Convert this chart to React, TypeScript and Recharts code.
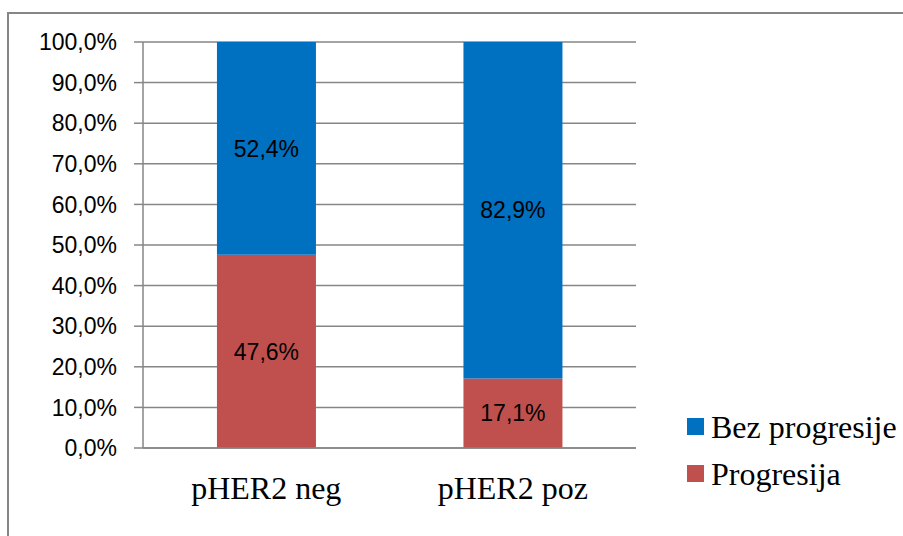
import { BarChart, Bar, XAxis, YAxis, CartesianGrid, LabelList } from 'recharts'

const categories = ['pHER2 neg', 'pHER2 poz']
const progresija = [0.476, 0.171]
const bezProgresije = [0.524, 0.829]
const yTicks = [0, 0.1, 0.2, 0.3, 0.4, 0.5, 0.6, 0.7, 0.8, 0.9, 1]
const boundaryTicks = [0, 1, 2]

const data = categories.map((name, i) => ({
  name,
  progresija: progresija[i],
  bez: bezProgresije[i],
}))

const GRAY = '#868686'
const BLUE = '#0070C0'
const RED = '#C0504D'
const SANS = '"Liberation Sans", Arial, sans-serif'
const SERIF = '"Liberation Serif", "Times New Roman", serif'

const pct = (v: any) => (Number(v) * 100).toFixed(1).replace('.', ',') + '%'

const legendItems = [
  { label: 'Bez progresije', color: BLUE },
  { label: 'Progresija', color: RED },
]

function LegendBox() {
  return (
    <div style={{ position: 'absolute', left: 687, top: 403 }}>
      {legendItems.map((it) => (
        <div key={it.label} style={{ display: 'flex', alignItems: 'center', height: 47 }}>
          <span style={{ width: 17, height: 17, background: it.color, display: 'inline-block', marginRight: 7 }} />
          <span style={{ fontFamily: SERIF, fontSize: 32, color: '#000', lineHeight: 1 }}>{it.label}</span>
        </div>
      ))}
    </div>
  )
}

export default function App() {
  return (
    <div style={{ position: 'absolute', left: 0, top: 0, width: 903, height: 536, background: '#fff' }}>
      <div
        style={{
          position: 'absolute',
          left: 7,
          top: 12,
          right: 0,
          bottom: 0,
          borderTop: `2px solid ${GRAY}`,
          borderLeft: `2px solid ${GRAY}`,
        }}
      />
      <BarChart
        width={903}
        height={536}
        data={data}
        margin={{ top: 42, right: 267, bottom: 0, left: 0 }}
        barCategoryGap="30%"
        style={{ position: 'absolute', left: 0, top: 0 }}
      >
        <CartesianGrid vertical={false} stroke={GRAY} strokeWidth={1.5} />
        <XAxis
          dataKey="name"
          height={88}
          axisLine={{ stroke: GRAY, strokeWidth: 1.5 }}
          tickLine={false}
          tick={{ fontFamily: SERIF, fontSize: 32, fill: '#000' }}
          tickMargin={22}
        />
        <XAxis
          xAxisId="b"
          type="number"
          domain={[0, 2]}
          ticks={boundaryTicks}
          height={0}
          axisLine={false}
          tickLine={{ stroke: GRAY, strokeWidth: 1.5 }}
          tickSize={11}
          tick={false}
        />
        <YAxis
          width={143}
          domain={[0, 1]}
          ticks={yTicks}
          tickFormatter={pct}
          axisLine={{ stroke: GRAY, strokeWidth: 1.5 }}
          tickLine={{ stroke: GRAY, strokeWidth: 1.5 }}
          tickSize={9}
          tickMargin={17}
          tick={{ fontFamily: SANS, fontSize: 23, fill: '#000' }}
          interval={0}
        />
        <Bar dataKey="progresija" stackId="s" fill={RED} isAnimationActive={false}>
          <LabelList dataKey="progresija" position="center" formatter={pct} style={{ fontFamily: SANS, fontSize: 23, fill: '#000' }} />
        </Bar>
        <Bar dataKey="bez" stackId="s" fill={BLUE} isAnimationActive={false}>
          <LabelList dataKey="bez" position="center" formatter={pct} style={{ fontFamily: SANS, fontSize: 23, fill: '#000' }} />
        </Bar>
      </BarChart>
      <LegendBox />
    </div>
  )
}
